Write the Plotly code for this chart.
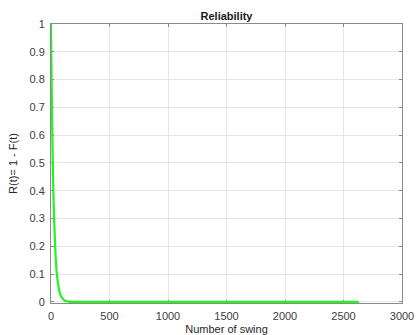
import plotly.graph_objects as go

# Number of swings (t) and reliability R(t)
swings = [0, 5, 10, 15, 20, 25, 30, 40, 50, 60, 70, 80, 90, 100, 120, 150, 200,
          500, 1000, 1500, 2000, 2630]
reliability = [1.0, 0.80, 0.64, 0.51, 0.40, 0.32, 0.26, 0.16, 0.10, 0.066, 0.042,
               0.026, 0.017, 0.011, 0.004, 0.001, 0.0001,
               0.0, 0.0, 0.0, 0.0, 0.0]

x_ticks = [0, 500, 1000, 1500, 2000, 2500, 3000]
y_ticks = [0, 0.1, 0.2, 0.3, 0.4, 0.5, 0.6, 0.7, 0.8, 0.9, 1]

font = "Liberation Sans, Arial, sans-serif"

fig = go.Figure()
fig.add_trace(go.Scatter(x=swings, y=reliability, mode="lines", cliponaxis=False,
                         line=dict(color="#1ff51f", width=2.2, shape="spline", smoothing=0.6),
                         showlegend=False))

axis_common = dict(showline=True, linecolor="#8a8a8a", linewidth=1, mirror="ticks",
                   showgrid=True, gridcolor="#e6e6e6", gridwidth=1, layer="below traces",
                   ticks="inside", ticklen=3, tickcolor="#8a8a8a", automargin=False,
                   zeroline=False, tickfont=dict(family=font, size=11, color="#404040"))

fig.update_xaxes(range=[0, 3000], tickvals=x_ticks, ticklabelstandoff=3,
                 title=dict(text="Number of swing", font=dict(family=font, size=11, color="#262626"), standoff=6),
                 **axis_common)
fig.update_yaxes(range=[-0.004, 1], tickvals=y_ticks, ticklabelstandoff=3,
                 title=dict(text="R(t)= 1 - F(t)", font=dict(family=font, size=11, color="#262626"), standoff=9),
                 **axis_common)

fig.update_layout(
    width=416, height=335,
    margin=dict(l=51, r=14, t=24, b=32),
    paper_bgcolor="white", plot_bgcolor="white",
    title=dict(text="<b>Reliability</b>", x=(51 + 402) / 2 / 416, xanchor="center",
               y=1 - 16 / 335, yanchor="middle",
               font=dict(family=font, size=11, color="#1a1a1a")),
)

fig.write_html("out.html")
